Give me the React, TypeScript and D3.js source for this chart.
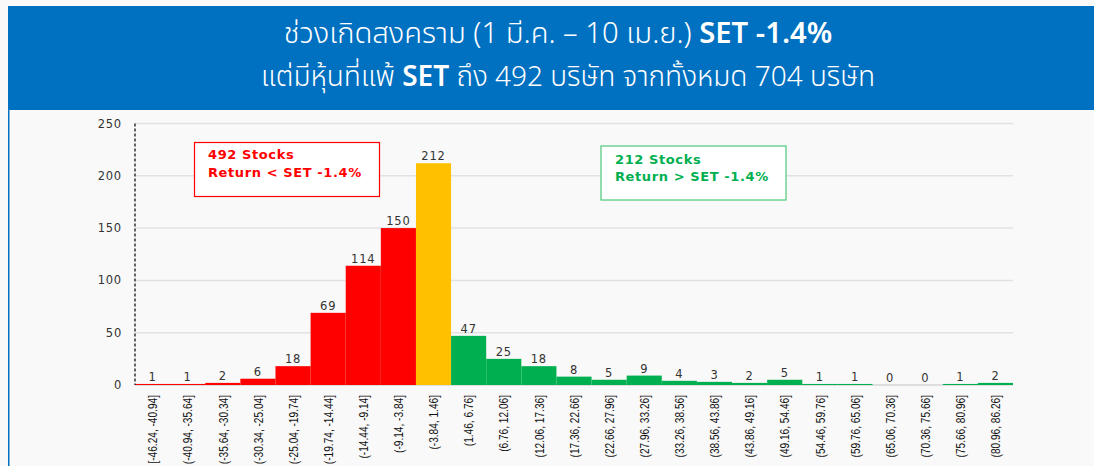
import React from "react";
import * as d3 from "d3";

// histogram bins (return %, 5.3 wide)
const binLabels = [
  "[-46.24, -40.94]", "(-40.94, -35.64]", "(-35.64, -30.34]", "(-30.34, -25.04]",
  "(-25.04, -19.74]", "(-19.74, -14.44]", "(-14.44, -9.14]", "(-9.14, -3.84]",
  "(-3.84, 1.46]", "(1.46, 6.76]", "(6.76, 12.06]", "(12.06, 17.36]",
  "(17.36, 22.66]", "(22.66, 27.96]", "(27.96, 33.26]", "(33.26, 38.56]",
  "(38.56, 43.86]", "(43.86, 49.16]", "(49.16, 54.46]", "(54.46, 59.76]",
  "(59.76, 65.06]", "(65.06, 70.36]", "(70.36, 75.66]", "(75.66, 80.96]",
  "(80.96, 86.26]",
];
const counts = [1, 1, 2, 6, 18, 69, 114, 150, 212, 47, 25, 18, 8, 5, 9, 4, 3, 2, 5, 1, 1, 0, 0, 1, 2];
// which side of SET each bin falls on
const binGroup = [
  "below", "below", "below", "below", "below", "below", "below", "below",
  "set",
  "above", "above", "above", "above", "above", "above", "above", "above",
  "above", "above", "above", "above", "above", "above", "above", "above",
];
const yTicks = [0, 50, 100, 150, 200, 250];

const titleLine1 = "ช่วงเกิดสงคราม (1 มี.ค. – 10 เม.ย.) ";
const titleLine1Bold = "SET -1.4%";
const titleLine2a = "แต่มีหุ้นที่แพ้ ";
const titleLine2Bold = "SET";
const titleLine2b = " ถึง 492 บริษัท จากทั้งหมด 704 บริษัท";

const belowNote = ["492 Stocks", "Return < SET -1.4%"];
const aboveNote = ["212 Stocks", "Return > SET -1.4%"];

const W = 1094;
const H = 466;
const margin = { left: 135, right: 81, top: 123.5, bottom: 81 };

const color = d3
  .scaleOrdinal<string, string>()
  .domain(["below", "set", "above"])
  .range(["#FF0000", "#FFC000", "#00B050"]);

const numFont = "'DejaVu Sans', Verdana, sans-serif";
const thaiFont = "'Noto Sans Thai', 'Noto Sans Thai Looped', 'Noto Sans', 'Liberation Sans', sans-serif";

export default function App() {
  const x = d3
    .scaleBand<string>()
    .domain(binLabels)
    .range([margin.left, W - margin.right])
    .padding(0);

  const y = d3
    .scaleLinear()
    .domain([0, 250])
    .range([H - margin.bottom, margin.top]);

  const x0 = margin.left;
  const x1 = W - margin.right;

  return (
    <div style={{ position: "absolute", left: 0, top: 0, width: W, height: H }}>
      <svg width={W} height={H} style={{ display: "block" }}>
        <rect x={0} y={0} width={W} height={H} fill="#f9f9f9" />
        {/* header */}
        <rect x={8} y={6} width={W - 8} height={104} fill="#0070C0" />
        <line x1={8.75} x2={8.75} y1={110} y2={H} stroke="#0070C0" strokeWidth={1.5} />
        <text
          x={558}
          y={43}
          textAnchor="middle"
          fill="#fff"
          fontFamily={thaiFont}
          fontWeight={300}
          fontSize={29.2}
        >
          {titleLine1}
          <tspan fontWeight={600}>{titleLine1Bold}</tspan>
        </text>
        <text
          x={568}
          y={86}
          textAnchor="middle"
          fill="#fff"
          fontFamily={thaiFont}
          fontWeight={300}
          fontSize={28}
        >
          {titleLine2a}
          <tspan fontWeight={600}>{titleLine2Bold}</tspan>
          {titleLine2b}
        </text>

        {/* gridlines */}
        {yTicks.map((t) => (
          <line
            key={"g" + t}
            x1={x0}
            x2={x1}
            y1={y(t)}
            y2={y(t)}
            stroke={t === 0 ? "#d4d4d4" : "#e2e2e2"}
            strokeWidth={1.5}
          />
        ))}
        {yTicks.map((t) => (
          <text
            key={"t" + t}
            x={122}
            y={y(t)}
            dy="0.35em"
            textAnchor="end"
            fontFamily={numFont}
            fontSize={11.5}
            letterSpacing={0.8}
            fill="#333"
          >
            {t}
          </text>
        ))}

        {/* bars */}
        {counts.map((v, i) => (
          <rect
            key={"b" + i}
            x={x(binLabels[i])}
            y={y(v)}
            width={x.bandwidth()}
            height={y(0) - y(v)}
            fill={color(binGroup[i])}
          />
        ))}
        {counts.map((v, i) => (
          <text
            key={"v" + i}
            x={(x(binLabels[i]) as number) + x.bandwidth() / 2}
            y={y(v) - 3}
            textAnchor="middle"
            fontFamily={numFont}
            fontSize={11.5}
            letterSpacing={0.8}
            fill="#333"
          >
            {v}
          </text>
        ))}

        {/* y axis */}
        <line
          x1={x0}
          x2={x0}
          y1={y(250)}
          y2={y(0)}
          stroke="#333"
          strokeWidth={1.5}
          strokeDasharray="3,2"
        />

        {/* x labels */}
        {binLabels.map((lab) => {
          const cx = (x(lab) as number) + x.bandwidth() / 2;
          return (
            <text
              key={"x" + lab}
              transform={`translate(${cx},${y(0) + 10}) rotate(-90) scale(0.75,1)`}
              textAnchor="end"
              dy="0.35em"
              fontFamily="'Liberation Sans', Arial, sans-serif"
              fontSize={13.5}
              fill="#111"
            >
              {lab}
            </text>
          );
        })}

        {/* notes */}
        <rect x={194.5} y={142.5} width={185} height={54} fill="#fff" stroke="#FF0000" strokeWidth={1.2} />
        {belowNote.map((s, i) => (
          <text
            key={"bn" + i}
            x={208}
            y={159 + i * 18}
            fontFamily={numFont}
            fontWeight="bold"
            fontSize={13}
            letterSpacing={0.6}
            fill="#FF0000"
          >
            {s}
          </text>
        ))}
        <rect x={601} y={146} width={185} height={54} fill="#fff" stroke="#4cc97a" strokeWidth={1.2} />
        {aboveNote.map((s, i) => (
          <text
            key={"an" + i}
            x={615}
            y={164 + i * 17}
            fontFamily={numFont}
            fontWeight="bold"
            fontSize={13}
            letterSpacing={0.6}
            fill="#00B050"
          >
            {s}
          </text>
        ))}
      </svg>
    </div>
  );
}
